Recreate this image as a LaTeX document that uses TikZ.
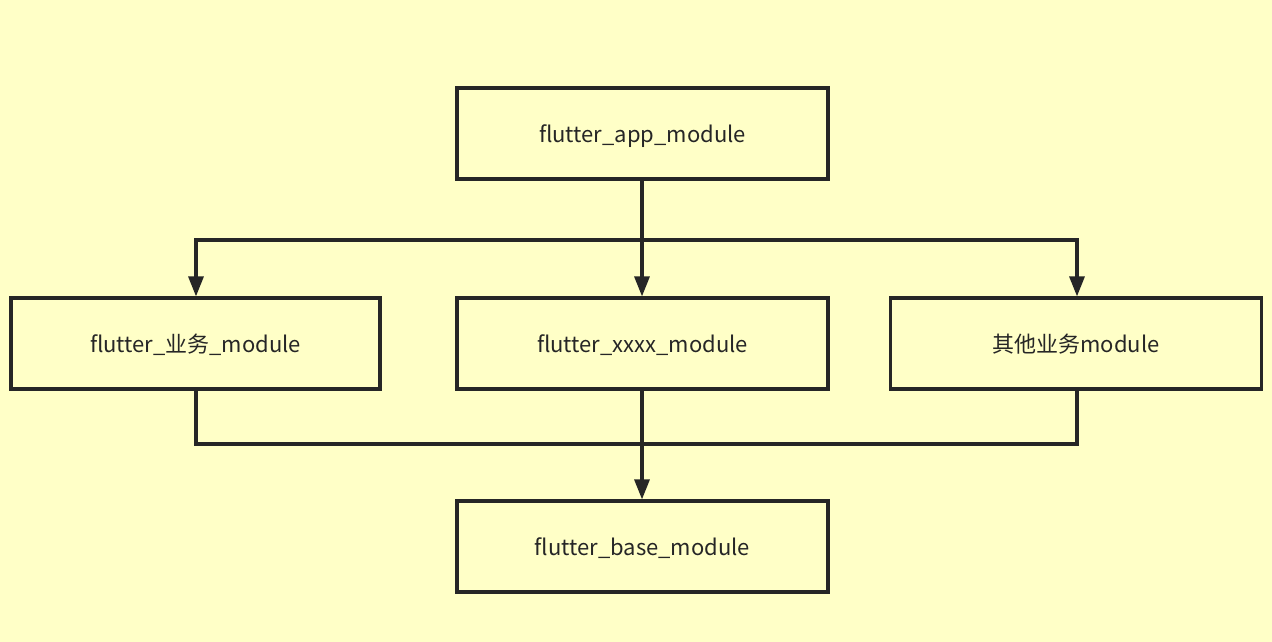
\documentclass[tikz,border=0pt]{standalone}
\usepackage{fontspec}
\setmainfont{Noto Sans CJK SC}
\usetikzlibrary{arrows.meta}
\definecolor{bg}{RGB}{255,255,199}
\definecolor{ln}{RGB}{38,38,38}
\begin{document}
\begin{tikzpicture}[x=1pt,y=-1pt,
  box/.style={draw=ln,line width=3.2pt,fill=bg,minimum width=371pt,minimum height=91pt,inner sep=0pt,
    text height=22pt,text depth=4pt,
    font=\fontsize{22}{26}\selectfont,text=ln},
  conn/.style={draw=ln,line width=3.2pt},
  arr/.style={conn,-{Triangle[length=20pt,width=15pt]}}]
\fill[bg] (0,0) rectangle (1272,642);
\useasboundingbox (0,0) rectangle (1272,642);
\node[box] (app) at (642.5,133.5) {flutter\_app\_module};
\node[box,minimum width=369pt] (biz) at (195.5,343.5) {flutter\_业务\_module};
\node[box] (xxxx) at (642.5,343.5) {flutter\_xxxx\_module};
\node[box] (other) at (1076,343.5) {其他业务module};
\node[box] (base) at (642.5,546.5) {flutter\_base\_module};
\coordinate (top) at (642,240);
\coordinate (bot) at (642,444);
\draw[conn] (app.south -| top) -- (top);
\draw[arr] (top) -| (biz.north -| 196,0);
\draw[arr] (top) -- (xxxx.north -| top);
\draw[arr] (top) -| (other.north -| 1077,0);
\draw[conn] (biz.south -| 196,0) |- (bot);
\draw[conn] (other.south -| 1077,0) |- (bot);
\draw[conn] (xxxx.south -| bot) -- (bot);
\draw[arr] (bot) -- (base.north -| bot);
\end{tikzpicture}
\end{document}
